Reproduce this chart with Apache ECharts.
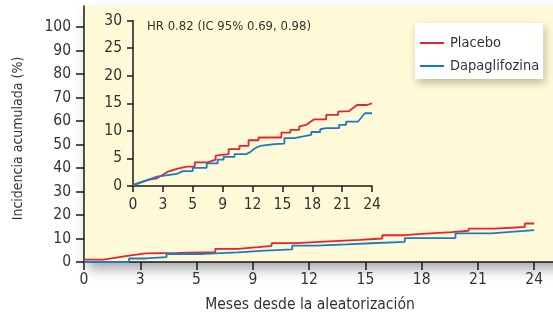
<!DOCTYPE html>
<html><head><meta charset="utf-8">
<script src="https://cdn.jsdelivr.net/npm/echarts@6/dist/echarts.min.js"></script>
<style>html,body{margin:0;padding:0;background:#fff}#c{width:553px;height:320px}</style>
</head><body><div id="c"></div>
<script>
// ---- data ----
const xTickValues = [0, 3, 6, 9, 12, 15, 18, 21, 24];
const xTickLabels = ['0', '3', '5', '9', '12', '15', '18', '21', '24'];
const mainYTicks = [0, 10, 20, 30, 40, 50, 60, 70, 80, 90, 100];
const insetYTicks = [0, 5, 10, 15, 20, 25, 30];
const seriesNames = ['Placebo', 'Dapaglifozina'];
// [month, cumulative incidence %] vertices of the step curves (main panel)
const placeboMain = [[0,1.0],[1.05,1.0],[1.05,1.7],[2.3,2.6],[3.3,3.7],[5.0,3.9],[5.0,4.2],[7.0,4.2],[7.0,5.6],[8.2,5.6],[8.2,6.3],[9.3,6.3],[9.3,6.9],[10.0,6.9],[10.0,8.0],[11.3,8.0],[11.3,8.7],[12.8,8.7],[12.8,9.4],[14.7,9.4],[14.7,10.0],[15.9,10.0],[15.9,11.4],[17.1,11.4],[17.1,12.0],[18.0,12.0],[18.0,12.7],[19.6,12.7],[19.6,13.3],[20.5,13.3],[20.5,14.2],[21.9,14.2],[21.9,14.9],[23.5,14.9],[23.5,16.4],[24,16.4]];
const dapaMain = [[0,0],[2.4,0],[2.4,1.5],[3.3,1.5],[3.3,2.1],[4.4,2.1],[4.4,3.4],[6.2,3.4],[6.2,3.7],[7.0,3.7],[7.0,4.1],[8.2,4.1],[8.2,4.7],[9.4,4.7],[9.4,5.4],[11.1,5.4],[11.1,7.0],[12.4,7.0],[12.4,7.5],[14.0,7.5],[14.0,8.1],[15.6,8.1],[15.6,8.6],[17.1,8.6],[17.1,10.2],[19.8,10.2],[19.8,12.2],[21.7,12.2],[21.7,12.6],[24,13.6]];
// inset panel (zoomed 0-30 %)
const placeboInset = [[0,0.2],[1.5,1.1],[2.4,1.4],[3.5,2.6],[4.4,3.1],[5.4,3.5],[6.2,3.5],[6.2,4.3],[7.5,4.3],[8.3,4.8],[8.3,5.5],[9.6,5.8],[9.6,6.7],[10.7,6.7],[10.7,7.3],[11.6,7.3],[11.6,8.3],[12.6,8.3],[12.6,8.8],[14.9,8.8],[14.9,9.7],[15.8,9.7],[15.8,10.2],[16.7,10.2],[16.7,10.8],[17.4,11.1],[18.2,12.1],[19.4,12.1],[19.4,12.9],[20.6,12.9],[20.6,13.5],[21.7,13.6],[22.5,14.7],[23.5,14.7],[23.5,15.0],[24,15.0]];
const dapaInset = [[0,0.1],[2.4,1.7],[4.4,2.2],[5.0,2.7],[6.0,2.7],[6.0,3.3],[7.4,3.3],[7.4,4.1],[8.5,4.1],[8.5,4.8],[9.1,4.8],[9.1,5.3],[10.2,5.3],[10.2,5.8],[11.4,5.8],[11.8,6.2],[12.2,6.8],[12.8,7.3],[14.2,7.6],[15.2,7.7],[15.2,8.7],[16.2,8.7],[16.2,9.0],[17.1,9.0],[17.1,9.3],[17.9,9.3],[17.9,9.8],[18.8,9.8],[18.8,10.3],[19.4,10.5],[20.7,10.5],[20.7,11.1],[21.4,11.1],[21.4,11.7],[22.6,11.7],[23.3,13.2],[24,13.2]];
const hrText = 'HR 0.82 (IC 95% 0.69, 0.98)';
const xName = 'Meses desde la aleatorización';
const yName = 'Incidencia acumulada (%)';

// ---- chart ----
const FONT = "'Liberation Sans Narrow', 'DejaVu Sans Condensed', 'Liberation Sans', sans-serif";
const TXT = '#333';
const RED = '#e8232b';
const BLUE = '#1b7bc4';
const FS = 15.5;
const AX = { lineStyle: { color: '#1a1a1a', width: 1.5 } };
const xFmt = v => { const i = xTickValues.indexOf(v); return i >= 0 ? xTickLabels[i] : ''; };

const chart = echarts.init(document.getElementById('c'), null, { renderer: 'canvas' });
const line = (name, data, idx, color) => ({
  name, type: 'line', data, xAxisIndex: idx, yAxisIndex: idx,
  showSymbol: false, symbol: 'none', animation: false,
  lineStyle: { color, width: 1.8 }, itemStyle: { color }, z: 5
});
chart.setOption({
  animation: false,
  textStyle: { fontFamily: FONT },
  grid: [
    { left: 84, top: 6, width: 469, height: 256 },
    { left: 133, top: 20.7, width: 239, height: 165.3 }
  ],
  xAxis: [
    { type: 'value', gridIndex: 0, min: 0, max: 25, axisLine: AX,
      axisTick: { customValues: xTickValues, length: 8, lineStyle: { color: '#1a1a1a', width: 1.5 } },
      axisLabel: { customValues: xTickValues, formatter: xFmt, fontSize: FS, color: TXT, margin: 10, fontFamily: FONT },
      splitLine: { show: false },
      name: xName, nameLocation: 'middle', nameGap: 35,
      nameTextStyle: { fontSize: FS, color: TXT, fontFamily: FONT, padding: [0, 17, 0, 0] } },
    { type: 'value', gridIndex: 1, min: 0, max: 24, interval: 3, axisLine: AX,
      axisTick: { length: 6, lineStyle: { color: '#1a1a1a', width: 1.5 } },
      axisLabel: { formatter: xFmt, fontSize: FS, color: TXT, margin: 11, fontFamily: FONT },
      splitLine: { show: false } }
  ],
  yAxis: [
    { type: 'value', gridIndex: 0, min: 0, max: 109, axisLine: { show: true, lineStyle: AX.lineStyle },
      axisTick: { show: true, customValues: mainYTicks, length: 8, lineStyle: { color: '#1a1a1a', width: 1.5 } },
      axisLabel: { customValues: mainYTicks, fontSize: FS, color: TXT, margin: 13, fontFamily: FONT },
      splitLine: { show: false },
      name: yName, nameLocation: 'middle', nameGap: 59, nameRotate: 90,
      nameTextStyle: { fontSize: 14, color: TXT, fontFamily: FONT, padding: [0, 9, 0, 0] } },
    { type: 'value', gridIndex: 1, min: 0, max: 30, interval: 5, axisLine: { show: true, lineStyle: AX.lineStyle },
      axisTick: { show: true, length: 6, lineStyle: { color: '#1a1a1a', width: 1.5 } },
      axisLabel: { fontSize: FS, color: TXT, margin: 11, fontFamily: FONT },
      splitLine: { show: false } }
  ],
  legend: {
    data: seriesNames, orient: 'vertical', left: 415, top: 23,
    backgroundColor: '#fff', padding: [12, 4, 5, 5], itemGap: 7,
    itemWidth: 24, itemHeight: 2, icon: 'rect',
    shadowBlur: 8, shadowColor: 'rgba(0,0,0,0.25)', shadowOffsetX: 2, shadowOffsetY: 4,
    textStyle: { fontSize: 14.5, color: TXT, fontFamily: FONT, lineHeight: 16, padding: [0, 0, 0, 1] }
  },
  graphic: [
    { type: 'rect', z: -10, shape: { x: 84, y: 6, width: 480, height: 256 },
      style: { fill: '#fefad7', shadowBlur: 12, shadowColor: 'rgba(0,0,0,0.35)', shadowOffsetX: 4, shadowOffsetY: 7 } },
    { type: 'text', z: 10, left: 147, top: 20,
      style: { text: hrText, fontSize: 13, fill: TXT, fontFamily: FONT } }
  ],
  series: [
    line(seriesNames[0], placeboMain, 0, RED),
    line(seriesNames[1], dapaMain, 0, BLUE),
    line(seriesNames[0], placeboInset, 1, RED),
    line(seriesNames[1], dapaInset, 1, BLUE)
  ]
});
</script></body></html>
